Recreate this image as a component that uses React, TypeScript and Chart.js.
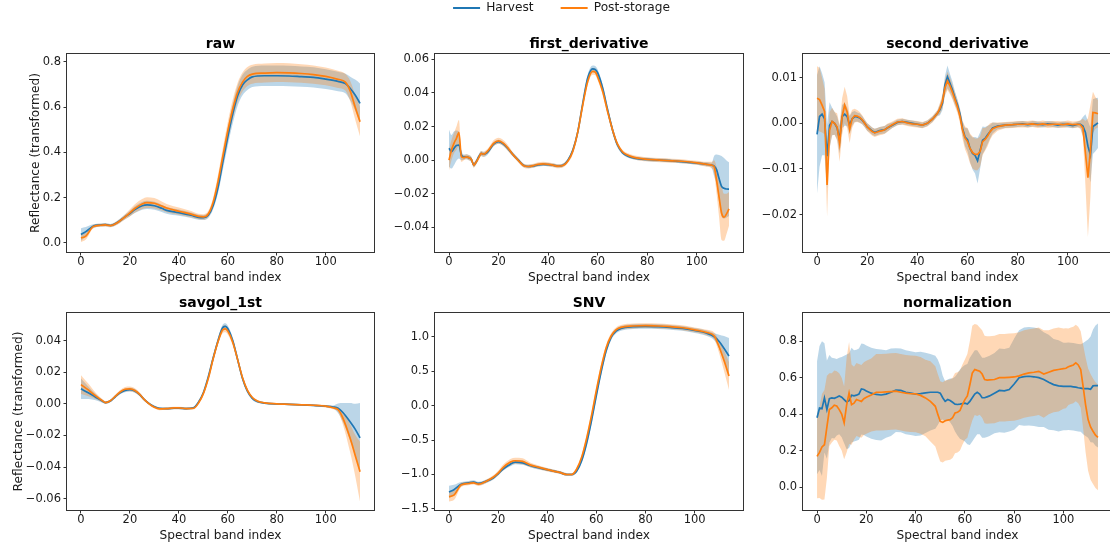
import React, { useEffect, useRef } from 'react';
import { Chart, registerables } from 'chart.js';

Chart.register(...registerables);

// ---------------- data ----------------
const xTickValues = [0, 20, 40, 60, 80, 100];

// raw
const rawIdx = [0, 2, 5, 8, 10, 12, 15, 18, 20, 22, 25, 27, 30, 33, 35, 40, 45, 48, 50, 52, 54, 56, 58, 60, 62, 64, 66, 68, 70, 75, 80, 85, 90, 95, 100, 105, 108, 110, 112, 114];
const rawHarvest = [0.037, 0.05, 0.074, 0.079, 0.081, 0.077, 0.091, 0.115, 0.13, 0.147, 0.164, 0.168, 0.164, 0.153, 0.144, 0.134, 0.122, 0.113, 0.112, 0.122, 0.165, 0.245, 0.36, 0.47, 0.57, 0.65, 0.697, 0.72, 0.733, 0.738, 0.738, 0.737, 0.734, 0.731, 0.723, 0.713, 0.704, 0.682, 0.653, 0.616];
const rawHarvestSd = [0.028, 0.02, 0.008, 0.007, 0.007, 0.007, 0.008, 0.01, 0.012, 0.015, 0.017, 0.018, 0.018, 0.016, 0.015, 0.014, 0.012, 0.011, 0.011, 0.012, 0.016, 0.025, 0.035, 0.04, 0.043, 0.044, 0.045, 0.045, 0.045, 0.045, 0.045, 0.045, 0.045, 0.045, 0.044, 0.043, 0.043, 0.052, 0.068, 0.088];
const rawPost = [0.022, 0.03, 0.072, 0.078, 0.08, 0.076, 0.09, 0.115, 0.133, 0.152, 0.172, 0.178, 0.175, 0.163, 0.154, 0.14, 0.127, 0.117, 0.115, 0.128, 0.18, 0.272, 0.385, 0.495, 0.59, 0.665, 0.71, 0.735, 0.745, 0.75, 0.752, 0.751, 0.748, 0.743, 0.735, 0.722, 0.71, 0.67, 0.6, 0.535];
const rawPostSd = [0.018, 0.015, 0.008, 0.007, 0.007, 0.007, 0.009, 0.012, 0.016, 0.019, 0.022, 0.024, 0.023, 0.02, 0.018, 0.016, 0.014, 0.012, 0.012, 0.014, 0.02, 0.03, 0.036, 0.04, 0.042, 0.042, 0.042, 0.042, 0.042, 0.042, 0.042, 0.042, 0.041, 0.04, 0.039, 0.038, 0.037, 0.045, 0.055, 0.065];
const rawYTicks = [0, 0.2, 0.4, 0.6, 0.8];

// first derivative
const firstIdx = [0, 1, 2, 3, 4, 5, 6, 7, 8, 9, 10, 11, 12, 13, 14, 15, 16, 18, 20, 22, 24, 26, 28, 30, 32, 34, 36, 38, 40, 42, 44, 46, 48, 50, 52, 54, 56, 58, 59, 60, 62, 64, 66, 68, 70, 72, 75, 80, 85, 90, 95, 100, 104, 106, 107, 108, 109, 110, 111, 112, 113];
const firstHarvest = [0.0071, 0.005, 0.007, 0.0087, 0.009, 0.003, 0.0018, 0.002, 0.0015, 0.0005, -0.0028, -0.001, 0.002, 0.004, 0.0035, 0.004, 0.0055,
  0.0095, 0.011, 0.0095, 0.0065, 0.003, 0.0, -0.003, -0.0038, -0.0035, -0.0028, -0.0025, -0.0027, -0.003, -0.0035, -0.003, 0.0, 0.006, 0.017, 0.034, 0.049, 0.0543,
  0.054, 0.052, 0.043, 0.03, 0.018, 0.009, 0.0045, 0.0025,
  0.0012, 0.0004, 0.0, -0.0004, -0.001, -0.0018, -0.0025, -0.003,
  -0.0035, -0.0057, -0.011, -0.0156, -0.0168, -0.0172, -0.0173];
const firstHarvestSd = [0.011, 0.01, 0.01, 0.009, 0.008, 0.003, 0.0015, 0.0015, 0.0015, 0.0015, 0.0015, 0.0015, 0.0015, 0.0015, 0.0015, 0.0015, 0.0015,
  0.0012, 0.0012, 0.0012, 0.0012, 0.0012, 0.0012, 0.001, 0.001, 0.001, 0.001, 0.001, 0.001, 0.001, 0.001, 0.001, 0.001, 0.0015, 0.0015, 0.0015, 0.002, 0.002,
  0.002, 0.002, 0.002, 0.002, 0.002, 0.0015, 0.001, 0.001,
  0.001, 0.001, 0.001, 0.001, 0.001, 0.001, 0.0012, 0.0015,
  0.006, 0.009, 0.014, 0.018, 0.018, 0.017, 0.016];
const firstPost = [0.0, 0.006, 0.01, 0.013, 0.0164, 0.002, 0.0015, 0.002, 0.0015, 0.0005, -0.003, -0.001, 0.0015, 0.004, 0.0035, 0.0045, 0.006,
  0.01, 0.0115, 0.01, 0.0068, 0.003, -0.0002, -0.0032, -0.0038, -0.0033, -0.0025, -0.0022, -0.0025, -0.003, -0.0036, -0.0032, -0.0005, 0.0055, 0.017, 0.033, 0.047, 0.0528,
  0.0525, 0.0495, 0.041, 0.029, 0.018, 0.0095, 0.005, 0.003,
  0.0015, 0.0005, 0.0, -0.0004, -0.0008, -0.0016, -0.0025, -0.003,
  -0.004, -0.012, -0.022, -0.0315, -0.034, -0.032, -0.029];
const firstPostSd = [0.006, 0.006, 0.006, 0.007, 0.0075, 0.003, 0.0015, 0.0015, 0.0015, 0.0015, 0.0015, 0.0015, 0.0015, 0.0015, 0.0015, 0.0015, 0.0015,
  0.0018, 0.0018, 0.0018, 0.0018, 0.0012, 0.0012, 0.0012, 0.0012, 0.0012, 0.0012, 0.0012, 0.0012, 0.0012, 0.0012, 0.0012, 0.0012, 0.002, 0.002, 0.002, 0.002, 0.002,
  0.002, 0.002, 0.002, 0.002, 0.002, 0.0015, 0.0012, 0.0012,
  0.0012, 0.0012, 0.0012, 0.0012, 0.0012, 0.0012, 0.0015, 0.002,
  0.004, 0.008, 0.012, 0.016, 0.014, 0.012, 0.01];
const firstYTicks = [-0.04, -0.02, 0, 0.02, 0.04, 0.06];

// second derivative
const secondIdx = [0, 1, 2, 3, 4, 5, 6, 7, 8, 9, 10, 11, 12, 13, 14, 15, 16, 17, 18, 19, 20, 21, 22, 23, 24, 25, 26, 27, 28,
  30, 32, 34, 36, 38, 40, 42, 44, 46, 48,
  49, 50, 51, 52, 53, 54, 55, 56, 57, 58, 59, 60, 61, 62, 63, 64, 65, 66, 67, 68, 69, 70,
  72, 75, 78, 80, 82, 84, 86, 88, 90, 92, 94, 96, 98, 100, 102, 104,
  105, 106, 107, 108, 109, 110, 111, 112];
const secondHarvest = [-0.0024, 0.0015, 0.002, 0.001, -0.0072, -0.0004, 0.0004, 0.0, -0.001, -0.0036, 0.0015, 0.002, 0.0015, -0.0004, 0.001, 0.0015, 0.0014, 0.0012, 0.0007, 0.0, -0.0008, -0.0012, -0.0017, -0.002, -0.0018, -0.0016, -0.0015, -0.0014, -0.001,
  -0.0004, 0.0002, 0.0004, 0.0002, 0.0, -0.0002, -0.0004, 0.0, 0.0009, 0.0022,
  0.003, 0.0044, 0.0084, 0.0102, 0.0088, 0.0073, 0.0055, 0.004, 0.002, -0.0011, -0.003, -0.0036, -0.0055, -0.0066, -0.007, -0.0082, -0.006, -0.0037, -0.0033, -0.0025, -0.0018, -0.001,
  -0.0006, -0.0004, -0.0003, -0.0002, -0.0001, -0.0003, -0.0001, -0.0002, -0.0003, -0.0001, -0.0002, -0.0004, -0.0002, -0.0003, -0.0005, -0.0002,
  -0.0002, -0.0006, -0.002, -0.005, -0.0069, -0.0007, -0.0003, 0.0001];
const secondHarvestSd = [0.013, 0.011, 0.009, 0.008, 0.007, 0.005, 0.003, 0.0025, 0.0025, 0.003, 0.0025, 0.0025, 0.002, 0.002, 0.0015, 0.0012, 0.001, 0.001, 0.0009, 0.0008, 0.0008, 0.0008, 0.0008, 0.0008, 0.0008, 0.0008, 0.0008, 0.0008, 0.0008,
  0.0006, 0.0006, 0.0006, 0.0006, 0.0006, 0.0006, 0.0006, 0.0006, 0.0006, 0.0006,
  0.0012, 0.0015, 0.002, 0.0025, 0.002, 0.0018, 0.0015, 0.0013, 0.0012, 0.0015, 0.002, 0.0025, 0.003, 0.0035, 0.004, 0.005, 0.004, 0.003, 0.0025, 0.002, 0.0015, 0.0012,
  0.0007, 0.0006, 0.0006, 0.0006, 0.0006, 0.0006, 0.0006, 0.0006, 0.0006, 0.0006, 0.0006, 0.0006, 0.0006, 0.0006, 0.0006, 0.0006,
  0.0008, 0.002, 0.004, 0.0055, 0.006, 0.006, 0.0058, 0.0055];
const secondPost = [0.0055, 0.0052, 0.004, 0.0026, -0.0135, -0.0015, 0.0004, 0.0, -0.0008, -0.0044, 0.0015, 0.004, 0.0025, -0.0013, 0.001, 0.0017, 0.0016, 0.0013, 0.0008, 0.0, -0.0008, -0.0013, -0.0018, -0.0021, -0.0019, -0.0017, -0.0016, -0.0014, -0.001,
  -0.0003, 0.0003, 0.0004, 0.0001, -0.0001, -0.0002, -0.0004, 0.0, 0.0009, 0.0022,
  0.0033, 0.0048, 0.0078, 0.0093, 0.0082, 0.0068, 0.0052, 0.0036, 0.0015, -0.0014, -0.0032, -0.004, -0.0055, -0.0064, -0.0068, -0.0068, -0.0062, -0.004, -0.0035, -0.0028, -0.0018, -0.0012,
  -0.0007, -0.0004, -0.0003, -0.0002, -0.0002, -0.0002, -0.0001, -0.0003, -0.0001, -0.0003, -0.0002, -0.0002, -0.0003, -0.0001, -0.0003, -0.0002,
  -0.0003, -0.001, -0.0065, -0.0119, -0.006, 0.0024, 0.0023, 0.0021];
const secondPostSd = [0.007, 0.007, 0.006, 0.005, 0.007, 0.004, 0.003, 0.0025, 0.003, 0.004, 0.004, 0.004, 0.0035, 0.003, 0.002, 0.0015, 0.0013, 0.0012, 0.001, 0.0009, 0.0009, 0.0009, 0.0009, 0.0009, 0.0009, 0.0009, 0.0009, 0.0009, 0.0009,
  0.0007, 0.0007, 0.0007, 0.0007, 0.0007, 0.0007, 0.0007, 0.0007, 0.0007, 0.0007,
  0.0012, 0.0015, 0.0018, 0.002, 0.0018, 0.0016, 0.0015, 0.0014, 0.0015, 0.002, 0.0025, 0.003, 0.0033, 0.0035, 0.0035, 0.0035, 0.0033, 0.003, 0.0025, 0.0022, 0.0018, 0.0014,
  0.0009, 0.0007, 0.0007, 0.0007, 0.0007, 0.0007, 0.0007, 0.0007, 0.0007, 0.0007, 0.0007, 0.0007, 0.0007, 0.0007, 0.0007, 0.0007,
  0.0009, 0.002, 0.007, 0.013, 0.01, 0.0045, 0.0035, 0.003];
const secondYTicks = [-0.02, -0.01, 0, 0.01];

// savgol_1st
const savgolIdx = [0, 3, 6, 9, 10, 12, 14, 16, 18, 20, 22, 24, 26, 28, 30, 32, 35, 38, 40, 43, 46, 48, 50, 52, 54, 56, 58, 59, 60, 62, 64, 66, 68, 70, 72, 75, 80, 85, 90, 95, 100, 103, 105, 107, 110, 112, 114];
const savgolHarvest = [0.0095, 0.007, 0.0042, 0.0015, 0.0008, 0.0018, 0.0045, 0.007, 0.0085, 0.009, 0.0082, 0.0058, 0.0025, 0.0, -0.0018, -0.0028, -0.003, -0.0028, -0.0027, -0.003, -0.0025, 0.001, 0.007, 0.017, 0.029, 0.04, 0.0484, 0.049, 0.0475, 0.04, 0.028, 0.016, 0.008, 0.0035, 0.0015, 0.0005, -0.0001, -0.0003, -0.0006, -0.001, -0.0015, -0.002, -0.0028, -0.0055, -0.0115, -0.016, -0.0215];
const savgolHarvestSd = [0.0065, 0.004, 0.002, 0.001, 0.0008, 0.0008, 0.001, 0.001, 0.0012, 0.0012, 0.0012, 0.001, 0.0008, 0.0007, 0.0007, 0.0007, 0.0007, 0.0007, 0.0007, 0.0007, 0.0007, 0.0008, 0.001, 0.0013, 0.0017, 0.002, 0.002, 0.002, 0.002, 0.002, 0.0018, 0.0015, 0.0012, 0.001, 0.0008, 0.0006, 0.0005, 0.0005, 0.0005, 0.0005, 0.0006, 0.001, 0.003, 0.006, 0.012, 0.016, 0.022];
const savgolPost = [0.0122, 0.0088, 0.005, 0.0017, 0.0008, 0.0019, 0.0047, 0.0075, 0.0092, 0.0095, 0.0085, 0.006, 0.0025, -0.0002, -0.0022, -0.0032, -0.003, -0.0026, -0.0026, -0.003, -0.0028, 0.0005, 0.0065, 0.016, 0.0285, 0.0395, 0.047, 0.0475, 0.046, 0.039, 0.028, 0.0165, 0.0085, 0.004, 0.0018, 0.0006, 0.0, -0.0003, -0.0006, -0.0009, -0.0015, -0.0025, -0.0036, -0.009, -0.022, -0.0325, -0.043];
const savgolPostSd = [0.006, 0.004, 0.002, 0.001, 0.0008, 0.0008, 0.001, 0.0012, 0.0014, 0.0015, 0.0014, 0.0012, 0.0009, 0.0008, 0.0008, 0.0008, 0.0008, 0.0008, 0.0008, 0.0008, 0.0008, 0.0009, 0.0011, 0.0014, 0.0018, 0.002, 0.0022, 0.0022, 0.0022, 0.002, 0.0018, 0.0015, 0.0012, 0.001, 0.0008, 0.0006, 0.0005, 0.0005, 0.0005, 0.0006, 0.0008, 0.001, 0.0015, 0.004, 0.009, 0.013, 0.019];
const savgolYTicks = [-0.06, -0.04, -0.02, 0, 0.02, 0.04];

// SNV
const snvIdx = [0, 2, 5, 8, 10, 12, 15, 18, 20, 22, 25, 27, 30, 33, 35, 40, 45, 48, 50, 52, 54, 56, 58, 60, 62, 64, 66, 68, 70, 75, 80, 85, 90, 95, 100, 105, 108, 110, 112, 114];
const snvHarvest = [-1.253, -1.22, -1.14, -1.12, -1.11, -1.13, -1.1, -1.05, -0.99, -0.92, -0.85, -0.82, -0.83, -0.87, -0.89, -0.93, -0.97, -1.0, -1.0, -0.95, -0.8, -0.55, -0.22, 0.15, 0.5, 0.8, 0.99, 1.08, 1.12, 1.145, 1.15, 1.145, 1.135, 1.12, 1.09, 1.05, 1.0, 0.93, 0.83, 0.72];
const snvHarvestSd = [0.09, 0.07, 0.03, 0.025, 0.025, 0.025, 0.025, 0.025, 0.025, 0.025, 0.03, 0.03, 0.03, 0.025, 0.025, 0.02, 0.02, 0.02, 0.02, 0.02, 0.03, 0.04, 0.05, 0.05, 0.05, 0.045, 0.04, 0.035, 0.035, 0.035, 0.035, 0.035, 0.035, 0.035, 0.035, 0.04, 0.05, 0.1, 0.18, 0.26];
const snvPost = [-1.32, -1.3, -1.15, -1.13, -1.12, -1.14, -1.1, -1.04, -0.98, -0.9, -0.82, -0.8, -0.81, -0.86, -0.88, -0.93, -0.97, -1.0, -1.0, -0.92, -0.75, -0.48, -0.15, 0.22, 0.56, 0.84, 1.01, 1.1, 1.135, 1.155, 1.16, 1.155, 1.145, 1.13, 1.1, 1.06, 1.01, 0.85, 0.65, 0.43];
const snvPostSd = [0.07, 0.07, 0.03, 0.025, 0.025, 0.025, 0.025, 0.03, 0.035, 0.04, 0.045, 0.045, 0.045, 0.035, 0.03, 0.025, 0.02, 0.02, 0.02, 0.02, 0.03, 0.04, 0.05, 0.05, 0.05, 0.045, 0.04, 0.035, 0.035, 0.035, 0.035, 0.035, 0.035, 0.035, 0.035, 0.04, 0.05, 0.09, 0.15, 0.2];
const snvYTicks = [-1.5, -1, -0.5, 0, 0.5, 1];

// normalization
const normIdx = [0, 1, 2, 3, 4, 5, 6, 7, 8, 9, 10, 11, 12, 13, 14, 15, 16, 17, 18, 19, 20,
  22, 24, 26, 28, 30, 32, 34, 36, 38, 40, 42, 44, 46, 48,
  49, 50, 51, 52, 53, 54, 55, 56, 57, 58, 59, 60, 61, 62, 63, 64, 65, 66, 67, 68, 69, 70,
  72, 74, 76, 78, 80, 82, 84, 86, 88, 90, 92, 94, 96, 98,
  100, 101, 102, 103, 104, 105, 106, 107, 108, 109, 110, 111, 112, 113, 114];
const normHarvest = [0.38, 0.434, 0.43, 0.489, 0.425, 0.485, 0.489, 0.487, 0.493, 0.5, 0.493, 0.48, 0.467, 0.474, 0.504, 0.5, 0.504, 0.51, 0.538, 0.535, 0.527,
  0.515, 0.508, 0.505, 0.51, 0.52, 0.532, 0.53, 0.52, 0.515, 0.51, 0.513, 0.517, 0.52, 0.52,
  0.52, 0.515, 0.49, 0.47, 0.48, 0.475, 0.465, 0.455, 0.453, 0.455, 0.458, 0.46, 0.455, 0.47, 0.49, 0.51, 0.52, 0.51, 0.49, 0.49, 0.495, 0.5,
  0.515, 0.53, 0.528, 0.535, 0.565, 0.6, 0.606, 0.608, 0.605, 0.6, 0.59, 0.575, 0.562, 0.555,
  0.552, 0.552, 0.553, 0.552, 0.55, 0.548, 0.545, 0.543, 0.54, 0.54, 0.54, 0.536, 0.555, 0.557, 0.557];
const normHarvestSd = [0.31, 0.34, 0.37, 0.3, 0.27, 0.24, 0.22, 0.22, 0.21, 0.21, 0.22, 0.24, 0.26, 0.26, 0.26, 0.25, 0.25, 0.25, 0.25, 0.25, 0.25,
  0.25, 0.25, 0.25, 0.24, 0.24, 0.23, 0.23, 0.23, 0.23, 0.23, 0.23, 0.22, 0.21, 0.2,
  0.18, 0.15, 0.12, 0.11, 0.11, 0.12, 0.13, 0.15, 0.17, 0.19, 0.2, 0.21, 0.22, 0.24, 0.24, 0.24, 0.23, 0.22, 0.22, 0.22, 0.22, 0.22,
  0.22, 0.23, 0.23, 0.23, 0.25, 0.26, 0.27, 0.27, 0.27, 0.27, 0.26, 0.26, 0.25, 0.25,
  0.24, 0.24, 0.24, 0.24, 0.24, 0.24, 0.24, 0.24, 0.25, 0.26, 0.27, 0.29, 0.31, 0.33, 0.34];
const normPost = [0.168, 0.19, 0.22, 0.232, 0.33, 0.425, 0.435, 0.449, 0.445, 0.425, 0.4, 0.352, 0.45, 0.516, 0.452, 0.46, 0.48, 0.475, 0.47, 0.485, 0.493,
  0.505, 0.52, 0.52, 0.522, 0.524, 0.526, 0.52, 0.515, 0.512, 0.511, 0.503, 0.489, 0.47, 0.443,
  0.4, 0.36, 0.355, 0.364, 0.367, 0.37, 0.38, 0.406, 0.41, 0.42, 0.452, 0.48, 0.5, 0.56, 0.625, 0.645, 0.64, 0.636, 0.62, 0.59, 0.587, 0.588,
  0.59, 0.6, 0.6, 0.602, 0.604, 0.61, 0.62, 0.626, 0.63, 0.635, 0.62, 0.63, 0.64, 0.645,
  0.65, 0.652, 0.66, 0.665, 0.67, 0.681, 0.67, 0.645, 0.55, 0.45, 0.37, 0.33, 0.306, 0.285, 0.273];
const normPostSd = [0.23, 0.25, 0.29, 0.3, 0.28, 0.2, 0.19, 0.19, 0.19, 0.2, 0.2, 0.2, 0.26, 0.28, 0.22, 0.2, 0.2, 0.2, 0.2, 0.2, 0.2,
  0.2, 0.21, 0.21, 0.21, 0.21, 0.21, 0.21, 0.21, 0.21, 0.21, 0.21, 0.21, 0.22, 0.22,
  0.22, 0.22, 0.22, 0.22, 0.22, 0.22, 0.22, 0.22, 0.22, 0.22, 0.22, 0.22, 0.23, 0.24, 0.26, 0.25, 0.25, 0.24, 0.24, 0.24, 0.24, 0.24,
  0.24, 0.24, 0.24, 0.24, 0.24, 0.24, 0.24, 0.24, 0.24, 0.24, 0.24, 0.23, 0.23, 0.23,
  0.22, 0.22, 0.21, 0.21, 0.21, 0.21, 0.21, 0.21, 0.23, 0.26, 0.28, 0.29, 0.29, 0.29, 0.29];
const normYTicks = [0, 0.2, 0.4, 0.6, 0.8];

// ---------------- styling / layout ----------------
const FONT = "'DejaVu Sans', 'Liberation Sans', sans-serif";
const HARVEST_LINE = '#1f77b4';
const POST_LINE = '#ff7f0e';
const HARVEST_FILL = 'rgba(31,119,180,0.3)';
const POST_FILL = 'rgba(255,127,14,0.3)';
const AXIS_COLOR = '#333333';
const TEXT_COLOR = '#1a1a1a';

const COLS = [
  { left: 67, width: 307, padL: 67 },
  { left: 435, width: 308, padL: 56 },
  { left: 803, width: 309, padL: 56 },
];
const ROWS = [
  { top: 54, height: 198 },
  { top: 313, height: 197 },
];
const PAD_T = 24;
const PAD_B = 36;
const PAD_R = 4;

type PanelSpec = {
  title: string;
  idx: number[];
  harvest: number[];
  harvestSd: number[];
  post: number[];
  postSd: number[];
  yMin: number;
  yMax: number;
  yTicks: number[];
  decimals: number;
  smooth: boolean;
  col: number;
  row: number;
  yLabel: boolean;
  yLabelPad: number;
};

const PANELS: PanelSpec[] = [
  { title: 'raw', idx: rawIdx, harvest: rawHarvest, harvestSd: rawHarvestSd, post: rawPost, postSd: rawPostSd, yMin: -0.04, yMax: 0.834, yTicks: rawYTicks, decimals: 1, smooth: true, col: 0, row: 0, yLabel: true, yLabelPad: 28.5 },
  { title: 'first_derivative', idx: firstIdx, harvest: firstHarvest, harvestSd: firstHarvestSd, post: firstPost, postSd: firstPostSd, yMin: -0.0547, yMax: 0.0632, yTicks: firstYTicks, decimals: 2, smooth: true, col: 1, row: 0, yLabel: false, yLabelPad: 0 },
  { title: 'second_derivative', idx: secondIdx, harvest: secondHarvest, harvestSd: secondHarvestSd, post: secondPost, postSd: secondPostSd, yMin: -0.0282, yMax: 0.0152, yTicks: secondYTicks, decimals: 2, smooth: false, col: 2, row: 0, yLabel: false, yLabelPad: 0 },
  { title: 'savgol_1st', idx: savgolIdx, harvest: savgolHarvest, harvestSd: savgolHarvestSd, post: savgolPost, postSd: savgolPostSd, yMin: -0.0672, yMax: 0.0575, yTicks: savgolYTicks, decimals: 2, smooth: true, col: 0, row: 1, yLabel: true, yLabelPad: 11.5 },
  { title: 'SNV', idx: snvIdx, harvest: snvHarvest, harvestSd: snvHarvestSd, post: snvPost, postSd: snvPostSd, yMin: -1.515, yMax: 1.344, yTicks: snvYTicks, decimals: 1, smooth: true, col: 1, row: 1, yLabel: false, yLabelPad: 0 },
  { title: 'normalization', idx: normIdx, harvest: normHarvest, harvestSd: normHarvestSd, post: normPost, postSd: normPostSd, yMin: -0.126, yMax: 0.955, yTicks: normYTicks, decimals: 1, smooth: false, col: 2, row: 1, yLabel: false, yLabelPad: 0 },
];

function fmt(v: number, d: number): string {
  const s = Math.abs(v) < 1e-12 ? (0).toFixed(d) : v.toFixed(d);
  return s.replace('-', '\u2212');
}

const framePlugin = {
  id: 'frame',
  afterDatasetsDraw(chart: any) {
    const { ctx, chartArea } = chart;
    const l = Math.round(chartArea.left) - 0.5;
    const t = Math.round(chartArea.top) - 0.5;
    const w = Math.round(chartArea.right) - Math.round(chartArea.left) + 1;
    const h = Math.round(chartArea.bottom) - Math.round(chartArea.top) + 1;
    ctx.save();
    ctx.strokeStyle = AXIS_COLOR;
    ctx.lineWidth = 1;
    ctx.strokeRect(l, t, w, h);
    ctx.restore();
  },
};

function buildDatasets(p: PanelSpec) {
  const mk = (vals: number[]) => p.idx.map((x, i) => ({ x, y: vals[i] }));
  const lo = (m: number[], s: number[]) => p.idx.map((x, i) => ({ x, y: m[i] - s[i] }));
  const hi = (m: number[], s: number[]) => p.idx.map((x, i) => ({ x, y: m[i] + s[i] }));
  const common: any = {
    pointRadius: 0,
    pointHoverRadius: 0,
    tension: 0,
    cubicInterpolationMode: p.smooth ? 'monotone' : 'default',
  };
  const clear = 'rgba(0,0,0,0)';
  // bands are drawn first (higher order), mean lines last
  return [
    { ...common, label: 'Harvest lower', data: lo(p.harvest, p.harvestSd), borderColor: clear, borderWidth: 0, backgroundColor: clear, fill: false, order: 6 },
    { ...common, label: 'Harvest band', data: hi(p.harvest, p.harvestSd), borderColor: clear, borderWidth: 0, backgroundColor: HARVEST_FILL, fill: '-1', order: 5 },
    { ...common, label: 'Post-storage lower', data: lo(p.post, p.postSd), borderColor: clear, borderWidth: 0, backgroundColor: clear, fill: false, order: 4 },
    { ...common, label: 'Post-storage band', data: hi(p.post, p.postSd), borderColor: clear, borderWidth: 0, backgroundColor: POST_FILL, fill: '-1', order: 3 },
    { ...common, label: 'Harvest', data: mk(p.harvest), borderColor: HARVEST_LINE, borderWidth: 1.7, backgroundColor: HARVEST_LINE, fill: false, order: 2 },
    { ...common, label: 'Post-storage', data: mk(p.post), borderColor: POST_LINE, borderWidth: 1.7, backgroundColor: POST_LINE, fill: false, order: 1 },
  ];
}

function panelConfig(p: PanelSpec): any {
  const last = p.idx[p.idx.length - 1];
  const col = COLS[p.col];
  const gridOpts = { display: true, drawOnChartArea: false, drawTicks: true, tickLength: 3.5, color: AXIS_COLOR, lineWidth: 1 };
  return {
    type: 'line',
    data: { datasets: buildDatasets(p) },
    options: {
      responsive: false,
      maintainAspectRatio: false,
      animation: false,
      events: [],
      layout: { padding: { left: 0, right: PAD_R, top: 0, bottom: 0 } },
      plugins: {
        legend: { display: false },
        tooltip: { enabled: false },
        title: {
          display: true,
          text: p.title,
          fullSize: false,
          color: '#000',
          font: { family: FONT, size: 14, weight: 'bold', lineHeight: 1.2 },
          padding: { top: 6.1, bottom: PAD_T - 16.8 - 6.1 },
        },
      },
      scales: {
        x: {
          type: 'linear',
          bounds: 'data',
          min: -0.05 * last,
          max: 1.05 * last,
          afterBuildTicks: (a: any) => { a.ticks = xTickValues.map((v) => ({ value: v })); },
          afterFit: (a: any) => { a.height = PAD_B; },
          grid: gridOpts,
          border: { display: false },
          ticks: { padding: 0, maxRotation: 0, autoSkip: false, color: TEXT_COLOR, font: { family: FONT, size: 11.5 }, callback: (v: any) => String(v) },
          title: { display: true, text: 'Spectral band index', color: TEXT_COLOR, font: { family: FONT, size: 12.2 }, padding: { top: 0, bottom: 2.6 } },
        },
        y: {
          type: 'linear',
          bounds: 'data',
          min: p.yMin,
          max: p.yMax,
          afterBuildTicks: (a: any) => { a.ticks = p.yTicks.map((v) => ({ value: v })); },
          afterFit: (a: any) => { a.width = col.padL; },
          grid: gridOpts,
          border: { display: false },
          ticks: { padding: 2.5, color: TEXT_COLOR, font: { family: FONT, size: 11.5 }, callback: (v: any) => fmt(Number(v), p.decimals) },
          title: { display: p.yLabel, text: 'Reflectance (transformed)', color: TEXT_COLOR, font: { family: FONT, size: 12.2 }, padding: { top: p.yLabelPad, bottom: 0 } },
        },
      },
    },
    plugins: [framePlugin],
  };
}

function legendConfig(): any {
  return {
    type: 'line',
    data: {
      datasets: [
        { label: 'Harvest', data: [], borderColor: HARVEST_LINE, backgroundColor: HARVEST_LINE, borderWidth: 0 },
        { label: 'Post-storage', data: [], borderColor: POST_LINE, backgroundColor: POST_LINE, borderWidth: 0 },
      ],
    },
    options: {
      responsive: false,
      maintainAspectRatio: false,
      animation: false,
      events: [],
      layout: { padding: 0 },
      scales: { x: { display: false }, y: { display: false } },
      plugins: {
        tooltip: { enabled: false },
        title: { display: false },
        legend: {
          display: true,
          position: 'top',
          align: 'center',
          labels: { boxWidth: 27, boxHeight: 2, padding: 27, color: TEXT_COLOR, font: { family: FONT, size: 12.2 } },
        },
      },
    },
  };
}

// legend canvas: tall enough that the legend box (capped at half the canvas) is not clipped
const LEGEND_BOX = { left: 0, top: -25, width: 1123, height: 140 };

function panelBox(p: PanelSpec) {
  const c = COLS[p.col];
  const r = ROWS[p.row];
  return {
    left: c.left - c.padL,
    top: r.top - PAD_T,
    width: c.padL + c.width + PAD_R,
    height: PAD_T + r.height + PAD_B,
  };
}

export default function App() {
  const panelRefs = useRef<(HTMLCanvasElement | null)[]>([]);
  const legendRef = useRef<HTMLCanvasElement | null>(null);

  useEffect(() => {
    Chart.defaults.font.family = FONT;
    const charts: Chart[] = [];
    PANELS.forEach((p, i) => {
      const cv = panelRefs.current[i];
      if (cv) charts.push(new Chart(cv, panelConfig(p)));
    });
    if (legendRef.current) charts.push(new Chart(legendRef.current, legendConfig()));
    return () => { charts.forEach((c) => c.destroy()); };
  }, []);

  return (
    <div style={{ position: 'absolute', left: 0, top: 0, width: 1110, height: 548, overflow: 'hidden', background: '#ffffff' }}>
      <canvas
        ref={legendRef}
        width={LEGEND_BOX.width}
        height={LEGEND_BOX.height}
        style={{ position: 'absolute', left: LEGEND_BOX.left, top: LEGEND_BOX.top, width: LEGEND_BOX.width, height: LEGEND_BOX.height }}
      />
      {PANELS.map((p, i) => {
        const b = panelBox(p);
        return (
          <canvas
            key={p.title}
            ref={(el) => { panelRefs.current[i] = el; }}
            width={b.width}
            height={b.height}
            style={{ position: 'absolute', left: b.left, top: b.top, width: b.width, height: b.height }}
          />
        );
      })}
    </div>
  );
}
